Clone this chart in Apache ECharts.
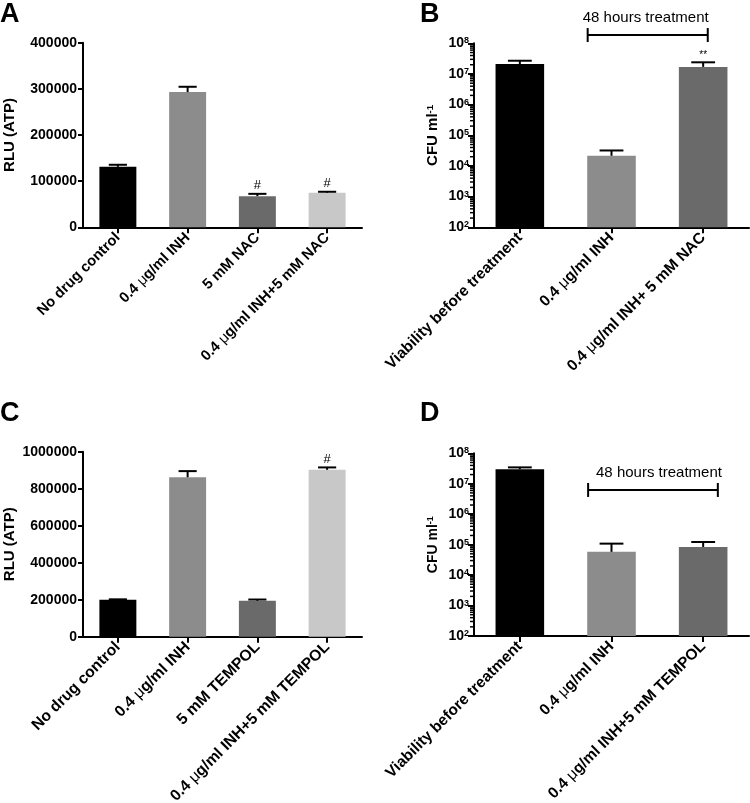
<!DOCTYPE html>
<html><head><meta charset="utf-8">
<script src="https://cdn.jsdelivr.net/npm/echarts@6/dist/echarts.min.js"></script>
<style>html,body{margin:0;padding:0;background:#fff}#c{width:750px;height:803px}</style>
</head><body><div id="c"></div>
<script>
// ---------- DATA ----------
const catA = ['No drug control', '0.4 μg/ml INH', '5 mM NAC', '0.4 μg/ml INH+5 mM NAC'];
const valA = [131000, 293000, 67500, 75000];
const errA = [4500, 11500, 5000, 2000];
const sigA = ['', '', '#', '#'];

const catB = ['Viability before treatment', '0.4 μg/ml INH', '0.4 μg/ml INH+ 5 mM NAC'];
const valB = [2.1e7, 2.15e4, 1.7e7];
const errB = [0.6e7, 1.05e4, 0.7e7];
const sigB = ['', '', '**'];

const catC = ['No drug control', '0.4 μg/ml INH', '5 mM TEMPOL', '0.4 μg/ml INH+5 mM TEMPOL'];
const valC = [200000, 862000, 194000, 902000];
const errC = [2000, 33000, 7000, 13000];
const sigC = ['', '', '', '#'];

const catD = ['Viability before treatment', '0.4 μg/ml INH', '0.4 μg/ml INH+5 mM TEMPOL'];
const valD = [3.0e7, 5.8e4, 8.4e4];
const errD = [0.45e7, 5.0e4, 3.8e4];
const sigD = ['', '', ''];

// tick labels / axis settings
const ticksA = [0, 100000, 200000, 300000, 400000];
const ticksC = [0, 200000, 400000, 600000, 800000, 1000000];
const logDecades = [1e2, 1e3, 1e4, 1e5, 1e6, 1e7];
const logMult = [2, 3, 4, 5, 6, 7, 8, 9];

// "48 hours treatment" brackets: [startCat, level, endCat, startOffset(bands), endOffset(bands)]
const bracketB = [1, 1.86e8, 2, -0.26, 0.05];
const bracketD = [1, 6.25e6, 2, -0.255, 0.16];
const bracketText = '48 hours treatment';

// ---------- STYLE ----------
const FONT = '"Liberation Sans", Arial, Helvetica, sans-serif';
const colors4 = ['#000000', '#8c8c8c', '#6a6a6a', '#c8c8c8'];
const colors3 = ['#000000', '#8c8c8c', '#6a6a6a'];

const grids = [
  {left: 83, top: 42.7, width: 279, height: 184.6},
  {left: 474, top: 43.3, width: 275, height: 184},
  {left: 83, top: 451.7, width: 279, height: 185},
  {left: 474, top: 453.3, width: 275, height: 182.7}
].map(g => Object.assign({containLabel: false, outerBoundsMode: 'none'}, g));

const axisLine = {show: true, onZero: false, lineStyle: {color: '#000', width: 2}};

function muFmt(s) {
  return s.split('μ').map(t => t ? '{t|' + t + '}' : '').join('{m|μ}');
}
function xAx(gi, cats, fs) {
  return {
    type: 'category', gridIndex: gi, data: cats,
    axisLine: axisLine,
    axisTick: {show: true, alignWithLabel: true, length: 6, lineStyle: {color: '#000', width: 2}},
    axisLabel: {
      interval: 0, rotate: 45, margin: 8, formatter: muFmt,
      rich: {
        t: {fontSize: fs, fontWeight: 'bold', fontFamily: FONT, color: '#000'},
        m: {fontSize: fs, fontWeight: 'normal', fontFamily: FONT, color: '#000'}
      }
    },
    splitLine: {show: false}
  };
}
function yLin(gi, ticks, name, gap) {
  return {
    type: 'value', gridIndex: gi, min: ticks[0], max: ticks[ticks.length - 1],
    interval: ticks[1] - ticks[0],
    axisLine: axisLine,
    axisTick: {show: true, length: 5, lineStyle: {color: '#000', width: 2}},
    axisLabel: {margin: 6, formatter: v => String(v), fontSize: 14, fontWeight: 'bold', fontFamily: FONT, color: '#000'},
    splitLine: {show: false},
    name: name, nameLocation: 'middle', nameGap: gap,
    nameTextStyle: {fontSize: 15, fontWeight: 'bold', fontFamily: FONT, color: '#000'}
  };
}
function yLog(gi, gap, nameSize) {
  return {
    type: 'log', logBase: 10, gridIndex: gi, min: 1e2, max: 1e8, splitNumber: 6,
    axisLine: axisLine,
    axisTick: {show: true, length: 6, lineStyle: {color: '#000', width: 2}},
    axisLabel: {
      margin: 5,
      formatter: v => '{b|10}{s|' + Math.round(Math.log10(v)) + '}',
      rich: {
        b: {fontSize: 14, fontWeight: 'bold', fontFamily: FONT, color: '#000'},
        s: {fontSize: 9, fontWeight: 'bold', fontFamily: FONT, color: '#000', verticalAlign: 'top'}
      }
    },
    splitLine: {show: false},
    name: '{a|CFU ml}{s|-1}', nameLocation: 'middle', nameGap: gap,
    nameTextStyle: {
      rich: {
        a: {fontSize: nameSize, fontWeight: 'bold', fontFamily: FONT, color: '#000'},
        s: {fontSize: nameSize * 0.65, fontWeight: 'bold', fontFamily: FONT, color: '#000', verticalAlign: 'top'}
      }
    }
  };
}
function barSeries(i, vals, cols) {
  return {
    type: 'bar', xAxisIndex: i, yAxisIndex: i, data: vals, barWidth: '53%',
    itemStyle: {color: p => cols[p.dataIndex]}, silent: true, z: 2
  };
}
function errSeries(i, vals, errs, sigs, sigFont) {
  return {
    type: 'custom', xAxisIndex: i, yAxisIndex: i, silent: true, z: 3, clip: false,
    data: vals.map((v, k) => [k, v, errs[k]]),
    renderItem: (params, api) => {
      const k = api.value(0), v = api.value(1), e = api.value(2);
      const p0 = api.coord([k, v]), p1 = api.coord([k, v + e]);
      const hw = api.size([1, 0])[0] * 0.13;
      const ch = [
        {type: 'line', shape: {x1: p0[0], y1: p0[1], x2: p1[0], y2: p1[1]}, style: {stroke: '#000', lineWidth: 2}},
        {type: 'line', shape: {x1: p1[0] - hw, y1: p1[1], x2: p1[0] + hw, y2: p1[1]}, style: {stroke: '#000', lineWidth: 2}}
      ];
      const s = sigs[params.dataIndex];
      if (s) ch.push({type: 'text', x: p1[0], y: p1[1] - 2,
        style: {text: s, fill: '#000', font: sigFont, align: 'center', verticalAlign: 'bottom'}});
      return {type: 'group', children: ch};
    }
  };
}
function minorSeries(i) {
  const d = [];
  logDecades.forEach(dec => logMult.forEach(m => d.push([0, m * dec])));
  return {
    type: 'custom', xAxisIndex: i, yAxisIndex: i, silent: true, z: 10, clip: false, data: d,
    renderItem: (params, api) => {
      const p = api.coord([0, api.value(1)]);
      const x0 = p[0] - api.size([1, 0])[0] / 2;
      return {type: 'line', shape: {x1: x0 - 4, y1: p[1], x2: x0, y2: p[1]}, style: {stroke: '#000', lineWidth: 1.5}};
    }
  };
}
function bracketSeries(i, br, textDx) {
  return {
    type: 'custom', xAxisIndex: i, yAxisIndex: i, silent: true, z: 5, clip: false, data: [br],
    renderItem: (params, api) => {
      const bw = api.size([1, 0])[0];
      const a = api.coord([api.value(0), api.value(1)]);
      const b = api.coord([api.value(2), api.value(1)]);
      const x1 = a[0] + api.value(3) * bw, x2 = b[0] + api.value(4) * bw, y = a[1];
      const st = {stroke: '#000', lineWidth: 2};
      return {type: 'group', children: [
        {type: 'line', shape: {x1: x1, y1: y, x2: x2, y2: y}, style: st},
        {type: 'line', shape: {x1: x1, y1: y - 7, x2: x1, y2: y + 7}, style: st},
        {type: 'line', shape: {x1: x2, y1: y - 7, x2: x2, y2: y + 7}, style: st},
        {type: 'text', x: (x1 + x2) / 2 + textDx, y: y - 17,
          style: {text: bracketText, fill: '#000', font: '15px ' + FONT, align: 'center', verticalAlign: 'middle'}}
      ]};
    }
  };
}
function letter(t, left, top) {
  return {text: t, left: left, top: top, padding: 0,
    textStyle: {fontSize: 27, fontWeight: 'bold', fontFamily: FONT, color: '#000'}};
}

const chart = echarts.init(document.getElementById('c'), null, {renderer: 'canvas'});
chart.setOption({
  animation: false,
  backgroundColor: '#fff',
  title: [letter('A', 0, 1), letter('B', 420, 1), letter('C', 0, 400), letter('D', 420, 400)],
  grid: grids,
  xAxis: [xAx(0, catA, 14.7), xAx(1, catB, 15.5), xAx(2, catC, 15.7), xAx(3, catD, 15.5)],
  yAxis: [yLin(0, ticksA, 'RLU (ATP)', 66), yLog(1, 34, 15), yLin(2, ticksC, 'RLU (ATP)', 66), yLog(3, 34, 14)],
  series: [
    barSeries(0, valA, colors4), errSeries(0, valA, errA, sigA, '13px ' + FONT),
    barSeries(1, valB, colors3), errSeries(1, valB, errB, sigB, '10px ' + FONT), minorSeries(1), bracketSeries(1, bracketB, -2),
    barSeries(2, valC, colors4), errSeries(2, valC, errC, sigC, '13px ' + FONT),
    barSeries(3, valD, colors3), errSeries(3, valD, errD, sigD, '13px ' + FONT), minorSeries(3), bracketSeries(3, bracketD, 6)
  ]
});
</script></body></html>
